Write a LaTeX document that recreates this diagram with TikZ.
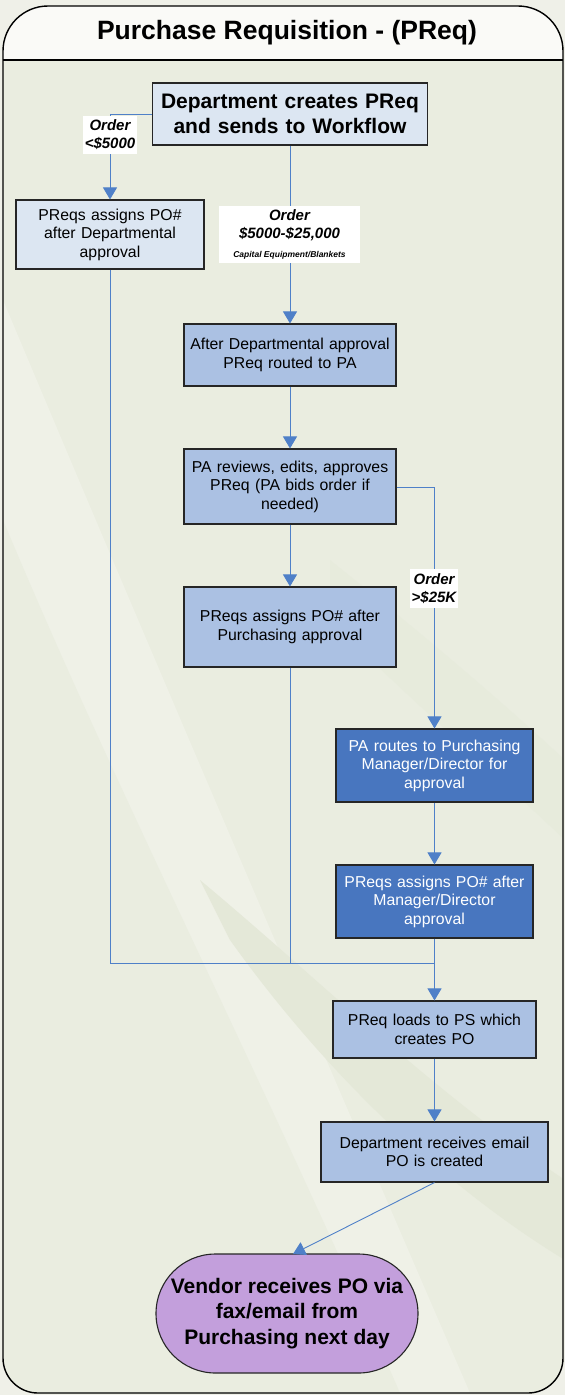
\documentclass[tikz,border=0pt]{standalone}
\usepackage{fontspec}
\setmainfont{Liberation Sans}
\usetikzlibrary{arrows.meta,shapes.misc}
\definecolor{pagebg}{HTML}{EFF0E8}
\definecolor{titlebg}{HTML}{FAFAF7}
\definecolor{bodybg}{HTML}{EAEDE0}
\definecolor{bandA}{HTML}{EFF1E7}
\definecolor{bandB}{HTML}{E4E8D8}
\definecolor{lightbox}{HTML}{DCE6F2}
\definecolor{midbox}{HTML}{ABC1E3}
\definecolor{darkbox}{HTML}{4876BF}
\definecolor{purp}{HTML}{C39FDC}
\definecolor{conn}{HTML}{4F80C8}
\begin{document}
\begin{tikzpicture}[x=1pt,y=-1pt,
  box/.style={draw=black!85, line width=1.1pt, align=center, inner sep=0pt,
    font=\fontsize{15.8}{18.5}\selectfont},
  lbox/.style={box, fill=lightbox},
  mbox/.style={box, fill=midbox},
  dbox/.style={box, fill=darkbox, text=white},
  tag/.style={fill=white, inner sep=1pt, align=center,
    font=\fontsize{15}{18}\selectfont\bfseries\itshape},
  link/.style={draw=conn, line width=0.9pt},
  arr/.style={link, -{Triangle[width=14pt,length=12pt]}}
]
\useasboundingbox (0,0) rectangle (565,1395);
\fill[pagebg] (0,0) rectangle (565,1395);
% frame
\path[fill=bodybg] (3,700) [rounded corners=45pt] -- (3,6) -- (563,6) -- (563,700) [rounded corners=35pt] -- (563,1393) -- (3,1393) -- cycle;
\begin{scope}
\clip (3,60) -- (563,60) [rounded corners=35pt] -- (563,1393) -- (3,1393) -- cycle;
\fill[bandA] (3,300) .. controls (150,650) and (300,1000) .. (470,1393) -- (3,1393) -- cycle;
\fill[bodybg] (3,520) .. controls (120,800) and (250,1050) .. (400,1393) -- (3,1393) -- cycle;
\fill[bandB] (200,880) .. controls (320,980) and (430,1090) .. (565,1180) -- (565,1260) .. controls (450,1190) and (330,1080) .. (230,940) -- cycle;
\fill[bandB!50!bodybg] (330,560) .. controls (430,640) and (500,700) .. (565,760) -- (565,840) .. controls (480,760) and (400,690) .. (330,620) -- cycle;
\end{scope}
\path[fill=titlebg] (3,60) [rounded corners=45pt] -- (3,6) -- (563,6) [sharp corners] -- (563,60) -- cycle;
\draw[line width=1.4pt] (3,700) [rounded corners=45pt] -- (3,6) -- (563,6) -- (563,700) [rounded corners=35pt] -- (563,1393) -- (3,1393) -- cycle;
\draw[line width=1.4pt] (3,60) -- (563,60);
\node[font=\fontsize{26.5}{30}\selectfont\bfseries] (title) at (287,33) {Purchase Requisition - (PReq)};

% boxes
\node[lbox, minimum width=275pt, minimum height=62pt, text width=270pt,
  font=\fontsize{21}{25}\selectfont\bfseries] (dept) at (290,114) {Department creates PReq\\and sends to Workflow};
\node[lbox, minimum width=188pt, minimum height=69pt, text width=182pt] (b2) at (110,234.5) {PReqs assigns PO\#\\after Departmental\\approval};
\node[mbox, minimum width=212pt, minimum height=62pt, text width=208pt] (b3) at (290,355) {After Departmental approval\\PReq routed to PA};
\node[mbox, minimum width=212pt, minimum height=75pt, text width=208pt] (b4) at (290,486.5) {PA reviews, edits, approves\\PReq (PA bids order if\\needed)};
\node[mbox, minimum width=212pt, minimum height=80pt, text width=208pt] (b5) at (290,627) {PReqs assigns PO\# after\\Purchasing approval};
\node[dbox, minimum width=197pt, minimum height=73pt, text width=192pt] (b6) at (434.5,765.5) {PA routes to Purchasing\\Manager/Director for\\approval};
\node[dbox, minimum width=197pt, minimum height=73pt, text width=192pt] (b7) at (434.5,901.5) {PReqs assigns PO\# after\\Manager/Director\\approval};
\node[mbox, minimum width=203pt, minimum height=57pt, text width=198pt] (b8) at (434.5,1029.5) {PReq loads to PS which\\creates PO};
\node[mbox, minimum width=227pt, minimum height=60pt, text width=222pt] (b9) at (434.5,1152) {Department receives email\\PO is created};
\node[draw=black!85, line width=1.1pt, fill=purp, rounded rectangle, minimum width=262pt, minimum height=119pt,
  inner sep=0pt, align=center, font=\fontsize{21}{25.5}\selectfont\bfseries] (vend) at (287,1313.5) {Vendor receives PO via\\fax/email from\\Purchasing next day};
\coordinate (vtop) at (293,1254);
\coordinate (j1) at (110,963);
\coordinate (j2) at (290,963);
\coordinate (j3) at (434.5,963);

% connectors
\draw[arr] (dept.west |- 0,114) -| (b2.north);
\draw[arr] (dept.south) -- (b3.north);
\draw[arr] (b3) -- (b4);
\draw[arr] (b4) -- (b5);
\draw[arr] (b4.east |- 0,487) -| (b6.north);
\draw[arr] (b6) -- (b7);
\draw[link] (b2.south) -- (j1) -- (j3);
\draw[link] (b5.south) -- (j2);
\draw[arr] (b7.south) -- (b8.north);
\draw[arr] (b8) -- (b9);
\draw[arr] (b9.south) -- (vtop);

% condition labels
\node[tag, minimum width=54pt, minimum height=38pt] (t1) at (110,135) {Order\\<\$5000};
\node[tag, minimum width=141pt, minimum height=57pt] (t2) at (289.5,234.5) {Order\\\$5000-\$25,000\\[1pt]{\fontsize{8.5}{10}\selectfont Capital Equipment/Blankets}};
\node[tag, minimum width=48pt, minimum height=39pt] (t3) at (434,588.5) {Order\\>\$25K};
\end{tikzpicture}
\end{document}
